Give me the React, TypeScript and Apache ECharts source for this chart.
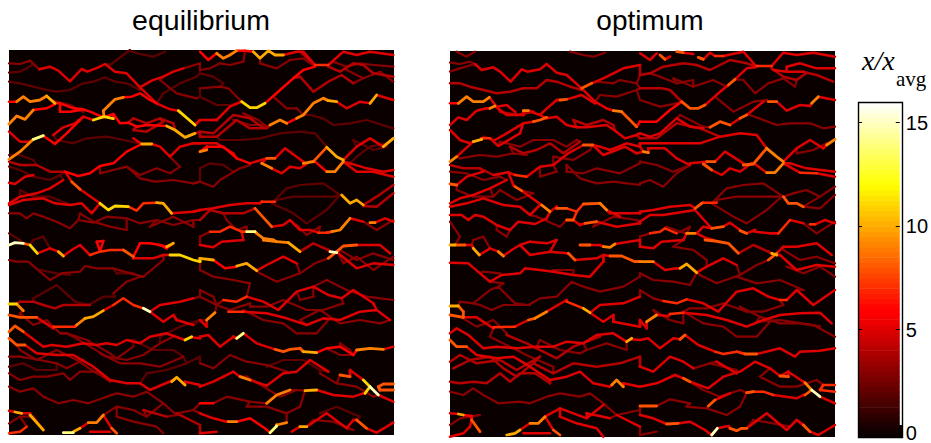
import React, { useEffect, useRef } from "react";
import * as echarts from "echarts";

// Each trace: [level, x, y, x, y, ...] (crop units, 3 per pixel).
const eqTopLeft: number[][] = [
  [3,27,70,60,72,90,62,118,88],[5,118,88,150,80,175,92,210,124,245,87,262,95,295,82,315,72,345,95,380,100,420,142,470,190,510,208,535,212],[11,535,212,585,255],
  [2,27,98,60,95,80,85,100,72],[5,420,142,455,122,490,110,520,95,550,85],[3,550,85,600,70],[2,330,75,370,45,390,30],[2,390,33,420,42,460,50,495,35],
  [2,27,125,60,130,100,140,140,150,170,155,210,150,250,130,280,125,315,112,345,125,380,130,420,150],
  [6,27,185,50,185],[9,50,185,70,170,90,185,120,180,140,168],[10,140,168,165,190],[6,165,190,180,190,220,205,250,208,270,215,310,232,340,222,360,250,385,248,410,260,440,255,500,258],[10,500,258,525,270,555,292,585,280],
  [9,27,252,50,228,75,238,100,210],[6,100,210,140,205,160,195],[6,180,215,210,215,240,210],
  [9,310,212,345,178,370,172],[6,370,172,395,170,420,160,450,180,470,190],[11,280,240,312,230,340,236],[5,280,240,250,230,225,250,190,262,160,285],
  [5,27,275,60,305,90,305],[14,100,298,130,287],[9,27,358,60,335,100,298],[6,130,287,165,312,200,280,240,240],
  [2,170,300,220,310,260,295,320,290,370,300,420,310],[5,400,295,425,312],[10,425,312,455,312],[5,455,312,480,320,510,350,540,320,580,310],
  [4,27,365,60,375,110,375,150,395,195,395],[6,195,395,235,408,270,400,300,378,340,370,380,335,425,312],
  [2,27,380,60,390,100,410,150,420,180,405],[3,300,400,340,390,380,380,420,405,470,385,510,400,540,380],[3,380,380,420,415,465,425,520,420,580,430],
  [5,27,428,45,432,75,410,100,405],[5,195,395,215,425],[8,215,425,240,448],[5,240,448,300,490],[11,300,490,325,510,345,498,385,500],[7,385,500,410,512,430,490,470,488],[10,470,488,490,490,515,520],[5,515,520,580,515],
  [5,27,490,60,470,110,460,150,445,190,420],[5,27,495,70,480,130,475,165,490,210,495,245,490,275,520,300,490],
  [3,27,520,60,520,80,535,100,520,130,530,170,545,210,565,235,540,280,548,320,530,380,535,420,550,470,540,520,555,580,540],[2,27,580,60,600],[2,100,600,130,590],
  [4,400,235,440,250,480,235,520,250],[4,400,270,440,275,490,245],[3,150,180,210,195,250,215],[3,480,120,530,160,590,175],[2,490,160,540,130,590,110],[2,27,345,60,345,100,360],[2,60,450,100,470,150,470,200,490],[3,240,520,280,545,330,560,380,570],[3,450,560,520,530,580,560],
];
const eqTopRight: number[][] = [
  [6,0,35,25,60,50,40],[9,50,40,70,55,90,45,110,32],[6,110,32,135,32,160,35],[10,160,35,180,55,205,32,225,45,250,45],[5,250,45,290,35,310,35,345,75],[7,345,75,385,75],[5,385,75,430,35,470,45,510,35,580,45],
  [4,345,75,300,35],[3,0,90,30,85,60,70,90,75,130,65],[3,180,70,230,85,270,60,310,55,345,80],[4,385,80,420,95,460,70,490,75,520,100,580,110],[3,400,65,440,80,480,70,520,75,580,80],
  [2,0,100,40,110,70,130],[3,0,145,60,140,85,145,125,185],[11,125,185,150,203,170,203,195,190],[6,195,190,240,150,280,115,310,90,345,80],[4,300,110,340,155,385,125,425,105,460,130],
  [2,0,170,50,195,90,195,125,185],[5,0,240,40,240],[5,50,240,90,200,125,185],[3,220,170,260,205,290,205],[9,210,255,240,240,260,250],[6,260,250,290,235],[9,290,235,310,225,340,190,370,175],[10,385,182,410,185],[5,410,185,440,205,480,185,510,190],[10,510,190,530,165],[5,530,165,580,180],
  [4,0,275,40,280,100,225,150,235,185,260],[4,0,290,50,290,110,240,150,265,200,265,210,255],[2,330,225,370,235,400,255,450,250,500,240,580,265],
  [2,60,300,120,300,180,295,240,280,300,275,345,280,380,320],[10,380,322,410,350,430,360],[5,430,360,470,320,510,295,550,320],[10,550,320,580,295],
  [9,0,335,20,330],[6,20,320,70,320,110,355,150,370],[5,0,310,50,310,100,340],[5,150,370,200,355],[8,200,355,225,355],[5,225,355,255,325,310,365],[9,310,370,340,365],[8,340,365,380,322],
  [9,185,370,215,385],[5,215,385,245,400,270,380,300,385,330,365],[6,345,365,380,395],[9,380,395,405,395,430,365],[5,430,365,470,395,520,395,580,410],[5,450,370,500,385,550,395,580,390],
  [2,0,385,30,370,70,375,100,395],[3,0,425,40,440,60,420,120,385,150,375],
  [2,215,490,260,445,300,435,370,430,420,465],[2,230,480,280,470,330,470,400,470],[2,215,490,280,520,320,550,380,510,420,465],
  [5,0,510,40,505,90,495,140,490,180,490],[7,185,485,225,485],[10,425,465,450,490,470,480,490,495],[4,490,495,530,470,580,435],[4,490,498,530,500,580,460],
  [4,0,540,30,510,70,520,130,520,165,505],[8,165,505,215,560],[5,215,560,250,555,270,540,300,570,330,570,355,578],[7,355,578,380,578],[9,395,575,420,570,450,535],[5,450,535,490,545],[9,510,548,525,548],[5,525,548,555,535,580,545],
  [7,30,575,60,575,90,560,125,575],[14,140,575,165,575],[9,170,580,190,595,220,600],[3,0,590,30,575],[3,490,545,530,570,580,540],
  [3,440,90,490,115,540,95,580,125],[3,100,240,150,255,195,255],[3,130,220,175,240,200,260],[2,460,300,520,330,560,320],[2,470,350,510,320,560,310],[3,80,540,110,570,140,560],[3,290,555,320,585,360,560],
];
const eqBottomLeft: number[][] = [
  [15,27,15,45,8,70,10],[8,70,10,90,15],[11,90,15,112,40],[5,112,40,150,25],[10,175,35,190,48],[5,190,48,215,30,240,15,270,45],[7,270,45,300,35,330,30,370,30],[8,370,30,400,50],[5,400,55,460,55,490,45],[11,510,45,540,45,580,60,600,65],
  [6,290,5,310,3],[6,420,10,450,10],[6,480,15,500,25],[10,500,20,520,10],
  [3,27,60,50,65,85,65,120,95,150,120,185,100,240,95,255,78,290,85,340,85,380,97,430,110,490,60],[2,120,90,170,100,210,105],[2,350,100,400,100],
  [2,100,175,170,135,225,185,265,195,310,170,345,170],[3,340,160,380,125,420,110],
  [11,27,192,50,192],[9,50,192,70,212],[4,60,185,100,185,130,195,165,205,190,195,270,195],
  [10,255,235,280,230,310,212],[5,310,212,340,195],[7,340,195,370,175,400,195,430,205],[15,430,205,450,215],[5,450,215,480,195,540,185,580,175],[5,450,215,490,245,520,225],[5,530,240,580,255],
  [8,27,225,60,232,110,232],[5,110,232,160,265],[7,160,260,225,260],[9,230,255,255,235],
  [8,27,275,45,258,70,275],[5,70,275,130,320,155,315,200,320,250,310,290,315,320,310,350,315,380,300,420,310,450,290,500,280,555,300],[11,555,300,575,290],[5,575,292,600,295],
  [8,27,295,50,315,75,315],[5,75,315,110,340,170,345,220,345,280,380,330,420,380,430,420,430,450,450,520,420],[10,515,425,530,412,555,435],[5,555,425,600,435],
  [3,200,280,260,300,330,340,350,355,400,320],[3,27,350,60,350,120,360,170,370,200,385,250,360],[3,220,290,270,320,320,350,380,360,430,345,480,310,520,290],
  [3,27,400,60,420,100,410,140,410,190,400,210,420,240,395,285,395,330,425],[3,27,440,60,455,100,445,130,470,175,490,220,480,265,490,320,470,350,460,400,470,440,455,490,490,530,525],[3,530,520,580,510],
  [5,27,512,45,516],[10,45,516,65,520],[5,65,520,90,520],[10,90,525,130,570],[3,27,550,60,530,100,530],
  [14,190,578,220,578],[10,220,575,240,565],[5,240,565,265,548],[9,265,548,290,548,310,525],[5,310,525,335,565],[8,335,565,350,580],
  [5,270,575,330,575],[7,27,580,60,575,80,560],[3,310,525,350,500,400,510,440,530,490,490],[3,350,530,400,545,470,560,490,580],[4,430,510,500,530],[4,530,520,600,555],
  [3,60,220,100,255,140,240,180,280],[3,60,330,110,360,170,330,230,360,290,400],[3,300,340,360,370,420,370,480,380,550,350],[2,400,300,460,330,520,330],[2,27,380,70,370,110,390,170,390],[2,440,400,500,390,560,370,600,350],[2,480,290,540,260,600,240],
];
const eqBottomRight: number[][] = [
  [5,0,15,40,22,65,5,130,0],[9,190,0,230,5,265,8],[10,265,8,300,35],[4,300,35,340,10,385,30],[15,390,35,410,38],[8,385,55,410,35,430,18,470,15],[5,470,15,540,15,570,40],[5,415,40,470,85,520,70,580,75],
  [10,0,55,40,60],[6,40,60,75,85,110,80],[10,110,78,140,70,170,92],[5,170,92,200,75,250,50,290,70],[3,180,100,230,125,300,100,345,70,385,55],[3,0,90,40,110,100,120,150,130],
  [3,0,150,40,170],[7,70,180,110,185,140,170],[5,140,170,190,185,235,210,290,155,340,140,385,165,425,175,460,150,520,190],[3,300,180,340,170],
  [9,20,240,45,218],[7,85,215,130,215],[5,130,215,200,220,260,235,320,255,370,235,420,240,480,215,530,210,570,240],[5,0,240,20,260],
  [3,130,210,190,240,250,250,290,280,350,280,385,240],[3,150,200,200,200,250,180,320,210,370,210,430,190],
  [5,0,290,25,285,60,320,100,290],[14,110,295,130,280],[5,130,280,170,310,225,328],[8,225,328,250,335,270,328,300,325],[10,310,335,350,338],[6,350,338,380,325,420,320,460,345],[9,470,330,510,325,550,328],[5,550,328,580,320],
  [3,380,325,420,345,460,345],[3,420,310,450,330],[3,0,370,40,385,90,345,140,365,200,375,260,395],
  [5,0,440,40,425,100,395],[9,120,410,150,420],[5,150,420,200,437],[5,200,437,250,400,290,395,330,360,385,395],[8,420,405,450,410],[5,450,390,490,420],[11,490,420,510,440],[15,510,440,535,465],[5,535,465,580,485],
  [11,495,460,510,440],[8,535,440,550,432,580,432],[8,540,450,580,450],
  [6,0,490,40,490],[3,40,490,80,470,150,485,200,490],[9,200,490,230,465,270,450],[10,315,452,350,450],[5,350,450,400,465,460,470,490,460],
  [5,0,520,40,535,80,545],[9,85,545,110,545],[6,110,545,150,535,195,565],[14,210,578,230,558],[9,230,555,260,548],[5,275,575,300,560],[10,300,560,320,560],[5,320,560,380,520,440,565,460,540],[8,470,540,500,565],[5,500,565,530,578,580,548],
  [3,300,500,260,520,200,500,140,500],[3,340,540,400,545,460,570],[5,0,580,50,575],
  [3,420,30,470,60,520,40,580,60],[3,430,70,470,50,520,90,580,50],[3,0,170,50,195,90,210,150,190],[3,300,240,360,210,420,250,480,240,540,250],[3,380,120,440,150,500,170,580,180],[2,200,380,250,360,310,360,360,390],[3,140,410,190,440,240,470,290,450],[3,360,400,410,430,470,440,520,470],[2,360,520,410,500,480,530],
];
const optTopLeft: number[][] = [
  [3,30,68,60,72,90,65,105,72],[5,105,72,125,90,160,82,180,95,212,125,245,88,262,95,300,88,320,72,350,98,380,105,425,145,465,185,500,205],[9,520,212,545,215],[8,545,215,590,260],
  [3,50,35,80,50,105,35],[3,30,95,60,85,105,72],[3,390,35,430,45,460,50,495,38],[8,425,145,455,130],[5,455,130,490,115,520,100,550,85,600,75],[3,470,125,520,130,540,120,590,130],
  [4,30,130,60,130,90,140,130,150,170,160,210,155,250,145,290,145,320,120,350,125,390,140,425,150],
  [6,30,190,55,190],[9,55,190,80,170,100,185,130,185,148,172],[5,148,172,170,200,200,195,225,215],[9,250,212,265,212],[5,265,212,300,225,320,235,350,230,380,255,410,262,440,262,500,255,525,272,555,295,590,285],
  [5,30,255,55,232,80,240,110,212,140,205],[9,150,205,165,198],[5,165,198,200,225,250,225],[5,310,215,350,180],[8,360,180,380,178],[5,380,178,425,165,465,190],
  [8,280,245,300,240,320,232],[5,280,245,250,250,200,280,165,300],[3,165,300,130,290],
  [5,30,270,60,300,90,310],[10,100,305,125,298],[7,125,295,150,295],[5,150,295,175,318,240,280],[9,30,365,50,350],[5,50,350,100,305],
  [3,180,305,240,320,280,300,340,300,380,320,410,300],[4,210,320,250,340,290,330,330,310,370,340,420,305],[3,60,355,120,345,170,350,220,340,260,345],
  [8,430,315,458,315],[5,458,315,490,345,530,330,555,320,590,340],[5,480,320,510,330,560,310,600,320],
  [4,30,375,70,385,120,385,160,405],[5,160,405,205,397],[7,225,405,260,410],[5,260,410,300,380,340,375,385,340,430,315],
  [3,30,395,80,400,130,420,180,410],[3,300,410,350,395],[3,380,375,420,415,470,430,520,425,600,435],[3,380,395,430,400,470,385,540,400,600,370],
  [8,30,432,50,435],[5,50,435,80,410,130,395],[5,205,397,220,435],[8,225,440,245,452],[5,245,452,305,495],[9,305,495,330,515],[5,330,515,350,500],[8,350,505,380,505],[7,380,505,410,515],[8,430,492,480,490],[9,480,490,500,510],[5,500,510,540,530],[5,510,520,600,520],
  [5,30,490,60,475,100,465,150,445,200,420],[5,30,500,80,490,130,475,190,495,240,500,270,525,300,495],
  [5,30,525,65,525,85,540,105,525,130,530,170,555,210,570,235,545,285,552,320,535],[8,380,540,400,540],[5,400,540,420,555],[8,435,550,470,545],[5,470,545,530,560,600,550],
  [3,30,545,60,590],[3,170,570,200,590],[3,290,530,360,560],[3,100,600,130,590],
  [4,400,240,440,255,490,240,520,255],[4,180,215,230,225,280,215],[3,480,165,530,170,590,150],[3,180,450,230,480,280,460],[3,50,450,100,470,160,470],[3,340,350,400,360,450,330],[3,460,560,520,530,590,540],
];
const optTopRight: number[][] = [
  [5,0,40,30,60,50,40],[8,60,45,75,58],[5,75,58,90,50],[8,110,35,130,38],[5,130,38,160,42],[8,175,52,190,58],[5,190,58,210,38,225,48],[7,225,48,250,48],[5,250,48,310,35,345,75],[7,350,78,395,78],[5,395,78,430,38,470,45,520,38,585,50],
  [4,0,105,30,100,70,80,130,70,170,75,210,90,270,60,320,70,350,80],[5,400,90,440,95,490,95],[5,440,80,480,70,530,85,585,85],[4,395,85,430,110,470,120,500,98,530,105,580,125],
  [4,0,145,65,145,90,150,125,185],[8,125,185,150,205,175,205,195,195],[5,195,195,235,160,265,135],[8,265,135,285,118],[5,285,118,320,85,345,82],
  [3,100,115,160,140,220,120,260,140],[3,225,170,280,215,340,185,380,180],[8,385,185,410,185],[5,410,185,440,212,480,195,510,198],[9,515,190,535,170],[5,535,170,585,180],[3,310,120,345,160,385,130,430,115,465,140],
  [6,0,245,50,245,90,210,125,185],[5,0,280,30,290,60,280,110,235,150,260,190,265],[8,210,262,240,245,270,255],[5,270,255,300,235],[8,300,235,320,225],[5,320,225,370,185],
  [4,0,295,50,295,110,250,180,265,240,290],[3,120,225,190,260],[3,330,225,370,240,410,255,450,250,510,250,550,265,585,260],
  [5,0,310,60,310,110,310,180,310,240,290,300,280,350,285,380,325],[9,380,325,410,350,430,365],[5,430,365,470,325,510,300,550,325],[9,560,315,585,298],
  [9,10,335,25,338],[5,25,325,75,325,110,355,150,375],[5,150,370,200,365],[8,200,365,225,365],[5,225,365,255,335,310,370],[8,310,375,340,372,380,325],
  [8,190,372,215,390],[5,215,390,245,405,270,385,300,395,335,370],[5,345,372,380,398],[9,380,398,405,398,430,370],[5,430,370,480,398],[7,480,398,530,400],[5,530,400,585,410],[5,450,370,500,385,585,395],
  [3,0,365,50,375,100,395,150,375],[3,0,430,30,420,70,440,110,400,150,375],
  [3,215,490,260,445,310,435,370,430,430,470],[3,230,480,290,470,390,470],[3,215,490,280,530,320,550,380,510,425,470],
  [5,0,515,40,510,90,500,150,495],[8,165,505,185,490],[7,190,488,230,488],[8,430,470,445,490,470,490,490,500],[3,490,500,540,470,585,440],[3,460,460,500,450,540,470],[3,490,500,540,505,585,465],
  [5,0,545,30,525,70,525,165,510,215,565],[8,215,565,250,560],[5,250,560,270,548,300,570],[8,300,572,320,580],[5,320,580,345,570],[5,345,575,390,580],[7,415,580,450,540],[5,450,540,490,550],[7,510,553,525,553],[5,525,553,555,540,585,550],
  [7,30,580,60,575,75,565,110,580],[9,140,580,165,580],[5,170,580,190,560,215,565],[5,170,580,200,595,220,600],[3,0,590,30,580],[3,490,550,530,580,585,545],
  [3,470,340,520,330,560,310],[3,0,180,60,200,110,190],[3,60,110,110,130,160,120],[3,80,560,120,575,150,560],
];
const optBottomLeft: number[][] = [
  [10,30,15,45,15],[8,45,15,75,15],[5,75,15,95,15],[10,100,25,118,45],[5,118,45,150,25],[9,175,35,190,48],[5,190,48,215,30,240,15,270,45,330,35,380,40],[8,385,40,405,60],[5,405,60,470,55,490,45],[8,510,48,545,48,585,65],
  [5,270,5,320,10,350,0],[8,420,15,450,15],[5,450,15,480,15],[9,490,20,510,22,525,12],[5,525,12,600,0],
  [5,30,68,85,70,120,100,150,125,185,105,240,100,255,85,300,90,340,95,400,105,450,110,490,65],[3,130,95,180,100],[3,340,90,400,90],[3,150,125,190,130],
  [3,100,190,150,150,175,140,225,190,265,195,300,175,350,170,395,125,430,140,480,155,550,140,600,110],
  [10,30,198,55,198],[8,55,198,70,215],[3,60,185,100,190,120,195,155,210,190,195,270,195],
  [8,265,240,285,235],[9,285,235,320,215],[5,320,215,380,180],[7,380,185,430,205],[10,430,205,450,218],[5,450,218,480,195,550,190,600,170],[5,450,218,490,245,520,225],[5,520,245,600,260],
  [8,30,225,70,232],[5,70,232,110,232,160,265],[7,160,262,225,260],[5,225,260,265,240],
  [5,30,280,50,265,85,285,130,325,170,320,230,325,290,320,340,320,380,305,430,310,470,285,520,280,560,305],[10,560,305,575,295],[5,575,298,600,300],
  [8,30,300,50,320,80,320],[5,80,320,110,345,170,355,220,350,270,380,330,420,380,410,420,395,460,430,510,440],[9,515,435,530,420,550,440],[5,550,430,600,440],
  [4,200,285,260,310,350,355,400,320,480,290],[4,30,365,60,345,110,370,180,360,230,390,300,350],[4,40,385,90,360,150,350,190,385,230,410,280,370,340,400,400,370,470,380,540,370,600,350],
  [4,30,425,60,430,100,425,140,430,180,400,210,425,240,400,285,400,330,430],[3,30,455,70,465,100,445,130,465,175,490,240,485,270,490,320,470,360,460,420,470,450,460,490,490,530,525,600,510],
  [5,30,520,55,522],[10,55,522,70,525],[6,70,525,95,528],[8,95,540,120,575],[3,30,555,60,535,120,525],
  [10,200,585,225,580,240,570],[5,240,570,270,550],[9,270,550,295,550,315,530],[5,315,530,340,570],[8,340,570,360,585],
  [5,250,580,330,580],[5,30,590,70,580,90,560],[5,315,530,360,505,400,520,440,535,490,495],[5,360,530,410,550,470,565,490,590],[5,440,520,510,535],[5,530,525,600,560],
  [3,60,230,110,260,160,240,200,280],[3,150,290,210,320,270,350,340,380],[3,440,330,500,310,560,330],[3,300,300,360,330,420,340],
];
const optBottomRight: number[][] = [
  [5,0,20,40,25,65,5,130,0],[8,195,0,225,3,265,10,295,40],[4,295,40,340,15,385,35],[10,395,40,410,45],[8,385,60,410,40],[5,410,40,430,20,470,20,530,10,575,45],[5,420,45,470,90,530,75,585,80],
  [9,0,65,40,65],[5,40,65,75,90,110,85],[10,120,85,140,72,170,98],[5,170,98,200,80,250,55,290,75],[3,180,105,230,130,300,105,350,75,385,60],[3,0,100,40,120,100,125,150,135],[3,200,60,160,30,100,20],
  [3,0,150,40,175],[7,70,183,110,190,140,178],[5,140,178,190,190,235,215,290,155,340,145,385,170],[7,420,180,440,180],[5,440,180,470,150,520,195,585,150],
  [9,20,245,50,225],[5,50,225,85,228],[7,90,222,130,218],[5,130,218,200,225,260,240,320,260,370,240,420,225,480,220,540,218,575,250],[5,0,240,20,265],
  [3,130,215,190,250,250,260,290,290,350,290,390,245],[3,150,205,200,205,250,190,320,215,370,215,430,195],[3,350,245,420,240,520,255,585,290],
  [5,0,300,25,295,60,325,100,295],[8,120,298,135,285],[5,135,285,175,315,225,335],[7,225,335,250,342,290,335],[8,315,342,350,342],[5,350,342,420,325,465,350,480,335,540,332,585,325],
  [5,0,380,40,395,90,350,130,365,160,385],[5,230,365,290,400],[3,160,385,210,370,290,390],
  [5,0,440,50,430,105,405],[8,130,415,150,425],[5,150,425,205,445,250,410,300,395,345,365,390,385],[8,420,408,445,410],[5,445,395,490,425],[9,495,428,515,450],[15,515,450,540,470],
  [8,495,465,515,450],[7,550,435,585,435],[7,540,450,585,455],[5,540,470,585,490],
  [8,0,498,50,498],[3,50,498,90,478,150,490],[8,205,498,225,480],[5,225,480,270,460],[8,320,458,340,455],[7,340,455,370,455,400,465],[5,400,465,470,475,490,465],
  [5,0,525,40,535,80,552],[8,80,552,115,550],[5,115,550,150,545,195,570],[15,215,585,232,565],[5,232,565,265,558],[8,270,565,290,572],[8,305,565,320,565],[5,320,565,380,520,440,570,470,540],[8,490,555,510,575],[5,510,575,535,585,585,555],
  [3,0,585,50,575],[3,140,500,200,505,260,525,300,500],[3,340,540,400,550,450,560],
  [3,430,30,480,60,530,50,585,70],[3,440,80,490,100,540,80,585,110],[3,290,110,350,130,420,120,490,150],[3,360,410,420,440,470,440,530,420],[3,140,420,190,450,240,470,300,450],[3,300,200,360,230,420,250,480,250,540,260],[3,40,210,90,240,130,250],
];

const colorbarTicks = [0, 5, 10, 15];
const titles = ["equilibrium", "optimum"];
const FONT = '"Liberation Sans", Arial, sans-serif';
const SERIF = '"Liberation Serif", "Times New Roman", serif';
const VMAX = 16;
const BANDS = 64;
const LINK_RADIUS = 60;

function hot(v: number): string {
  const t = Math.max(0, Math.min(1, v / VMAX));
  const r = Math.min(1, 0.04 + t / 0.375);
  const g = Math.max(0, Math.min(1, (t - 0.375) / 0.375));
  const b = Math.max(0, Math.min(1, (t - 0.75) / 0.25));
  return `rgb(${Math.round(r * 255)},${Math.round(g * 255)},${Math.round(b * 255)})`;
}

type Crop = { traces: number[][]; dx: number; dy: number };

function buildSeries(crops: Crop[], axisIndex: number) {
  const all = crops.flatMap(({ traces, dx, dy }) =>
    traces.map((t) => {
      const pts: number[][] = [];
      for (let i = 1; i + 1 < t.length; i += 2) pts.push([t[i] + dx, t[i + 1] + dy]);
      return { level: t[0], pts };
    })
  );
  // The crops were read piece by piece: join each loose end to the nearest traced point.
  const links: { level: number; pts: number[][] }[] = [];
  all.forEach((tr, idx) => {
    [tr.pts[0], tr.pts[tr.pts.length - 1]].forEach((end) => {
      if (end[0] < 15 || end[0] > 1140 || end[1] < 15 || end[1] > 1140) return;
      let best: number[] | null = null;
      let bestD = LINK_RADIUS;
      let bestLevel = 0;
      all.forEach((other, j) => {
        if (j === idx) return;
        other.pts.forEach((p) => {
          const d = Math.hypot(p[0] - end[0], p[1] - end[1]);
          if (d < bestD) { bestD = d; best = p; bestLevel = other.level; }
        });
      });
      if (best && bestD > 0) links.push({ level: Math.min(tr.level, bestLevel), pts: [end, best] });
    });
  });
  const merged = [...all, ...links].sort((a, b) => a.level - b.level);
  return merged.map(({ level, pts }) => ({
    type: "line",
    xAxisIndex: axisIndex,
    yAxisIndex: axisIndex,
    data: pts,
    symbol: "none",
    silent: true,
    lineStyle: { color: hot(level), width: level >= 8 ? 2.8 : level >= 4 ? 2.5 : 2.2, join: "round", cap: "round" },
    z: 2 + level / 100,
  }));
}

export default function App() {
  const ref = useRef<HTMLDivElement>(null);
  useEffect(() => {
    document.body.style.margin = "0";
    const chart = echarts.init(ref.current!, undefined, { renderer: "svg" });
    const eq = buildSeries(
      [
        { traces: eqTopLeft, dx: -27, dy: -30 },
        { traces: eqTopRight, dx: 573, dy: -30 },
        { traces: eqBottomLeft, dx: -27, dy: 570 },
        { traces: eqBottomRight, dx: 573, dy: 570 },
      ],
      0
    );
    const opt = buildSeries(
      [
        { traces: optTopLeft, dx: -30, dy: -33 },
        { traces: optTopRight, dx: 570, dy: -33 },
        { traces: optBottomLeft, dx: -30, dy: 567 },
        { traces: optBottomRight, dx: 570, dy: 567 },
      ],
      1
    );
    const bands = Array.from({ length: BANDS }, (_, i) => [(i * VMAX) / BANDS, ((i + 1) * VMAX) / BANDS]);
    const hiddenAxis = { type: "value", show: false };
    const barAxis = {
      type: "value", gridIndex: 2, min: 0, max: VMAX, interval: 5, z: 10,
      axisLine: { show: false, onZero: false },
      axisTick: { show: true, inside: true, length: 4, lineStyle: { color: "#000", width: 1 } },
      splitLine: { show: false },
    };
    chart.setOption({
      animation: false,
      backgroundColor: "#fff",
      grid: [
        { left: 9, top: 50, width: 385, height: 385, show: true, backgroundColor: "#0b0000", borderWidth: 0 },
        { left: 450, top: 51, width: 385, height: 386, show: true, backgroundColor: "#0b0000", borderWidth: 0 },
        { left: 858, top: 102, width: 44, height: 335, show: false },
      ],
      xAxis: [
        { ...hiddenAxis, gridIndex: 0, min: 0, max: 1155 },
        { ...hiddenAxis, gridIndex: 1, min: 0, max: 1155 },
        { ...hiddenAxis, gridIndex: 2, min: 0, max: 1 },
      ],
      yAxis: [
        { ...hiddenAxis, gridIndex: 0, min: 0, max: 1155, inverse: true },
        { ...hiddenAxis, gridIndex: 1, min: 0, max: 1158, inverse: true },
        {
          ...barAxis, position: "right",
          axisLabel: {
            margin: 6, fontFamily: FONT, fontSize: 20, color: "#000",
            showMaxLabel: false,
            formatter: (v: number) => (colorbarTicks.includes(v) ? String(v) : ""),
          },
        },
        { ...barAxis, position: "left", axisLabel: { show: false } },
      ],
      series: [
        {
          type: "custom",
          xAxisIndex: 2,
          yAxisIndex: 2,
          data: bands,
          silent: true,
          z: 2,
          clip: false,
          encode: { y: [0, 1] },
          renderItem: (_p: any, api: any) => {
            const a = api.coord([0, api.value(0)]);
            const b = api.coord([1, api.value(1)]);
            return {
              type: "rect",
              shape: { x: a[0], y: b[1], width: b[0] - a[0], height: a[1] - b[1] + 0.6 },
              style: { fill: hot((api.value(0) + api.value(1)) / 2) },
            };
          },
        },
        ...eq,
        ...opt,
      ],
      graphic: [
        { type: "rect", z: 1, shape: { x: 858, y: 425, width: 44, height: 12 }, style: { fill: "#0b0000" } },
        { type: "rect", z: 20, shape: { x: 858.5, y: 102.5, width: 44, height: 335 }, style: { fill: "none", stroke: "#000", lineWidth: 1.4 } },
        { type: "text", z: 20, x: 201, y: 20, style: { text: titles[0], font: `28.5px ${FONT}`, fill: "#000", textAlign: "center", textVerticalAlign: "middle" } },
        { type: "text", z: 20, x: 650, y: 20, style: { text: titles[1], font: `28px ${FONT}`, fill: "#000", textAlign: "center", textVerticalAlign: "middle" } },
        { type: "text", z: 20, x: 862, y: 46, style: { text: "x/x", font: `italic 28px ${SERIF}`, fill: "#000" } },
        { type: "text", z: 20, x: 896, y: 68, style: { text: "avg", font: `21px ${SERIF}`, fill: "#000" } },
      ],
    });
    return () => chart.dispose();
  }, []);
  return <div ref={ref} style={{ position: "fixed", left: 0, top: 0, width: 931, height: 443 }} />;
}
